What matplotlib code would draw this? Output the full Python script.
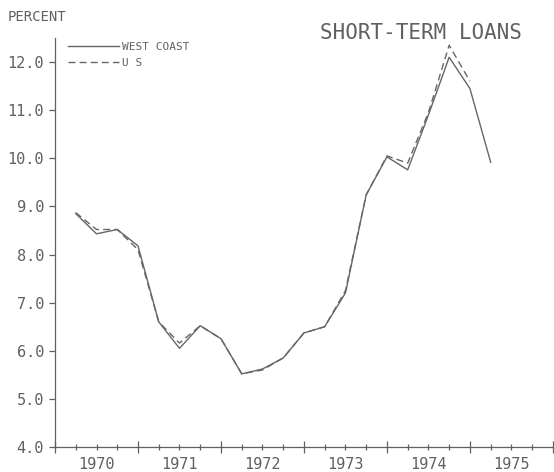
import numpy as np
import matplotlib
matplotlib.use('Agg')
import matplotlib.pyplot as plt
import matplotlib.transforms as mtransforms

# Datas trimestrais (fim de cada trimestre)
trimestres = np.arange(1970.25, 1975.26, 0.25)

# Taxas de empréstimos de curto prazo (%)
costa_oeste = [8.85, 8.43, 8.52, 8.18, 6.60, 6.05, 6.52, 6.25, 5.52, 5.62, 5.85,
               6.37, 6.50, 7.20, 9.24, 10.03, 9.76, 10.90, 12.10, 11.45, 9.92]
eua = [8.87, 8.52, 8.52, 8.10, 6.60, 6.16, 6.52, 6.25, 5.52, 5.60, 5.85,
       6.37, 6.50, 7.25, 9.24, 10.05, 9.90, 10.95, 12.35, 11.60]

anos = [1970, 1971, 1972, 1973, 1974, 1975]
y_ticks = [4, 5, 6, 7, 8, 9, 10, 11, 12]

cor = '#606060'
cor_linha = '#666666'
fonte = 'DejaVu Sans Mono'

fig = plt.figure(figsize=(5.54, 4.72), dpi=100)
ax = fig.add_axes([0.0993, 0.053, 0.8987, 0.8665])

ax.plot(trimestres, costa_oeste, color=cor_linha, lw=1.0, label='WEST COAST')
ax.plot(trimestres[:len(eua)], eua, color=cor_linha, lw=1.0, ls=(0, (5, 3)), label='U S')

ax.set_xlim(1970, 1976)
ax.set_ylim(4, 12.5)

for lado in ['top', 'right']:
    ax.spines[lado].set_visible(False)
for lado in ['left', 'bottom']:
    ax.spines[lado].set_color(cor)
    ax.spines[lado].set_linewidth(0.9)

# Eixo x: ticks grandes nos anos, pequenos nos trimestres
ax.set_xticks(np.arange(1970, 1977, 1))
ax.set_xticklabels([])
ax.set_xticks(np.arange(1970, 1976.01, 0.25), minor=True)
ax.tick_params(axis='x', which='major', direction='inout', length=9, width=0.9, color=cor)
ax.tick_params(axis='x', which='minor', direction='inout', length=5, width=0.9, color=cor)

trans = mtransforms.blended_transform_factory(ax.transData, ax.transAxes)
for ano in anos:
    ax.text(ano + 0.5, -0.025, str(ano), transform=trans, ha='center', va='top',
            fontsize=11, family=fonte, color=cor)

ax.set_yticks(y_ticks)
ax.set_yticklabels([f'{v:.1f}' for v in y_ticks], family=fonte, fontsize=11, color=cor)
ax.tick_params(axis='y', direction='out', length=4, width=0.9, color=cor, pad=4)

fig.text(8 / 554, 1 - 17 / 472, 'PERCENT', ha='left', va='center',
         fontsize=10, family=fonte, color=cor)
fig.text(421 / 554, 1 - 33 / 472, 'SHORT-TERM LOANS', ha='center', va='center',
         fontsize=15, family=fonte, color=cor)

ax.legend(loc='upper left', bbox_to_anchor=(0.01, 1.01), frameon=False,
          prop={'family': fonte, 'size': 8}, labelcolor=cor,
          handlelength=4.6, handletextpad=0.3, labelspacing=0.55, borderpad=0.2)

fig.savefig('out.png', dpi=100)
